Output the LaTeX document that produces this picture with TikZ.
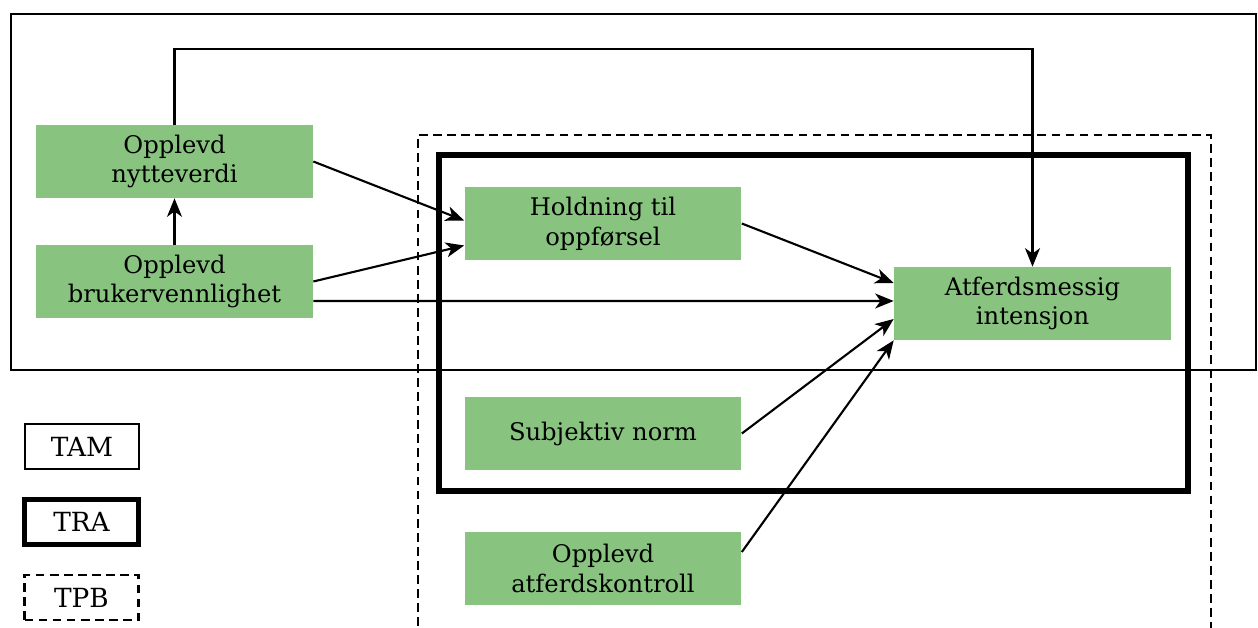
\documentclass[tikz,border=0pt]{standalone}
\usepackage{fontspec}
\setmainfont{DejaVu Serif}
\usetikzlibrary{arrows.meta,calc}
\definecolor{boxgreen}{HTML}{88C47F}
\tikzset{
  gbox/.style={fill=boxgreen, inner sep=0pt, minimum width=5.54cm, minimum height=1.46cm,
    align=center, font=\fontsize{13.8}{17}\selectfont},
  legbox/.style={inner sep=0pt, minimum width=2.28cm, minimum height=0.9cm,
    font=\fontsize{15}{17}\selectfont},
  conn/.style={line width=1.2pt, -{Stealth[length=10.5pt,width=8.5pt,inset=3pt]}},
  dashedline/.style={dash pattern=on 5pt off 3pt},
}
\begin{document}
\begin{tikzpicture}[x=0.02cm,y=-0.02cm]
\useasboundingbox (0,0) rectangle (1258,628);
% frames
\draw[line width=1.2pt] (11,14) rectangle (1256,370);
\draw[line width=1.2pt, dashedline] (418,640) -- (418,135) -- (1211,135) -- (1211,640);
\draw[line width=3.4pt] (439,155) rectangle (1188,491);
% nodes
\node[gbox] (nyt) at (174.5,161.5) {Opplevd\\nytteverdi};
\node[gbox] (bruk) at (174.5,281.5) {Opplevd\\brukervennlighet};
\node[gbox] (hold) at (603,223.5) {Holdning til\\oppførsel};
\node[gbox] (atf) at (1032.5,303.5) {Atferdsmessig\\intensjon};
\node[gbox] (subj) at (603,433.5) {Subjektiv norm};
\node[gbox] (ctrl) at (603,568.5) {Opplevd\\atferdskontroll};
% legend
\node[legbox, draw, line width=1.2pt] (tam) at (82,446.5) {TAM};
\node[legbox, draw, line width=3.4pt] (tra) at (81.5,522) {TRA};
\node[legbox, draw, line width=1.2pt, dashedline] (tpb) at (81.5,597.5) {TPB};
% connectors
\draw[conn] (nyt.north) -- (174.5,49) -| (atf.north);
\draw[conn] (bruk.north) -- (nyt.south);
\draw[conn] (nyt.east) -- ($(hold.west)+(0,-3)$);
\draw[conn] (bruk.east) -- ($(hold.west)+(0,22)$);
\draw[conn] ($(bruk.east)+(0,19.5)$) -- ($(atf.west)+(0,-2.5)$);
\draw[conn] (hold.east) -- ($(atf.west)+(0,-20.5)$);
\draw[conn] (subj.east) -- ($(atf.west)+(0,15.5)$);
\draw[conn] ($(ctrl.east)+(0,-16.5)$) -- (atf.south west);
\end{tikzpicture}
\end{document}
